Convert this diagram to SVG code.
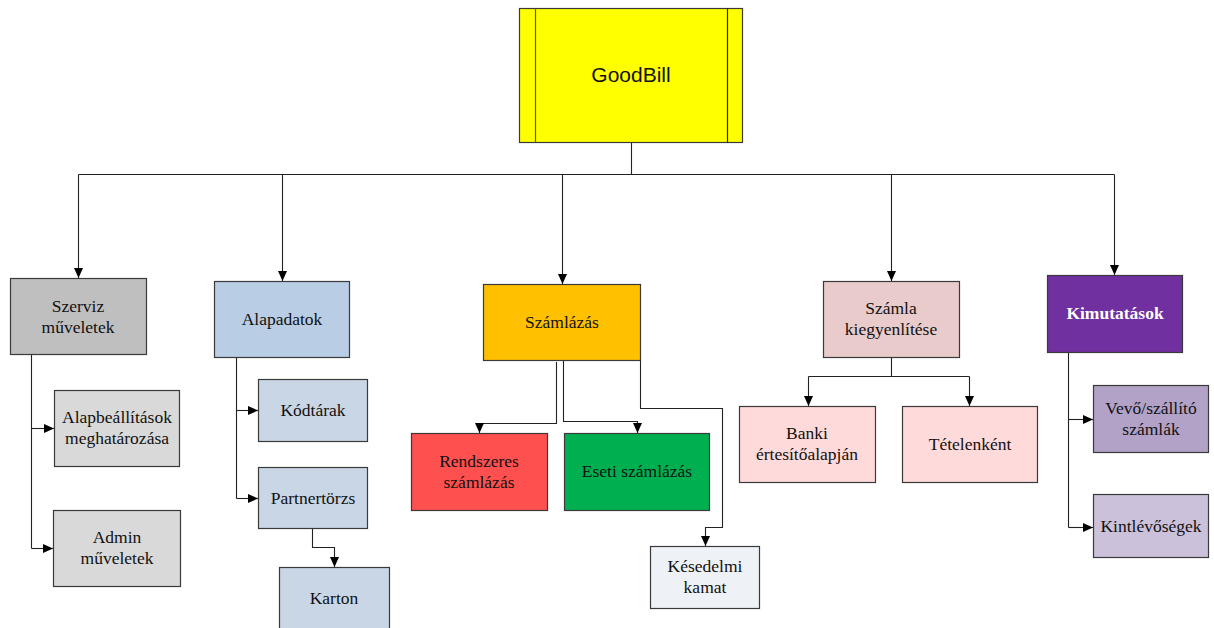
<svg xmlns="http://www.w3.org/2000/svg" width="1214" height="628" viewBox="0 0 1214 628">
<style>
.box{stroke:#3a3a3a;stroke-width:1.2}
.t{font-family:"Liberation Serif","Times New Roman",serif;font-size:17.5px;fill:#111;text-anchor:middle}
.c{fill:none;stroke:#222;stroke-width:1.1}
</style>
<defs>
<marker id="ar" markerUnits="userSpaceOnUse" markerWidth="10" markerHeight="10" viewBox="0 0 10 10" refX="10" refY="5" orient="auto">
<path d="M0,0.5 L10,5 L0,9.5 z" fill="#000"/>
</marker>
</defs>
<rect width="1214" height="628" fill="#fff"/>

<g id="connectors">
<path class="c" d="M631.5,143 V174.5"/>
<path class="c" d="M78.5,174.5 H1114.5"/>
<path class="c" d="M78.5,174.5 V278" marker-end="url(#ar)"/>
<path class="c" d="M282.5,174.5 V281" marker-end="url(#ar)"/>
<path class="c" d="M562.5,174.5 V284" marker-end="url(#ar)"/>
<path class="c" d="M891.5,174.5 V281" marker-end="url(#ar)"/>
<path class="c" d="M1114.5,174.5 V275" marker-end="url(#ar)"/>
<path class="c" d="M31.5,354 V548.5"/>
<path class="c" d="M31.5,428.5 H54" marker-end="url(#ar)"/>
<path class="c" d="M31.5,548.5 H53" marker-end="url(#ar)"/>
<path class="c" d="M236.5,357 V498.5"/>
<path class="c" d="M236.5,410.5 H258" marker-end="url(#ar)"/>
<path class="c" d="M236.5,498.5 H258" marker-end="url(#ar)"/>
<path class="c" d="M312.5,528 V547.5 H334.5 V567" marker-end="url(#ar)"/>
<path class="c" d="M556.5,362 V423.5 H479.5 V433" marker-end="url(#ar)"/>
<path class="c" d="M563.5,360 V421.5 H637.5 V433" marker-end="url(#ar)"/>
<path class="c" d="M640.5,360 V408.5 H722.5 V527.5 H705.5 V546" marker-end="url(#ar)"/>
<path class="c" d="M891.5,357 V376.5"/>
<path class="c" d="M808.5,376.5 H969.5"/>
<path class="c" d="M808.5,376.5 V406" marker-end="url(#ar)"/>
<path class="c" d="M969.5,376.5 V406" marker-end="url(#ar)"/>
<path class="c" d="M1068.5,352 V527.5"/>
<path class="c" d="M1068.5,419.5 H1093" marker-end="url(#ar)"/>
<path class="c" d="M1068.5,527.5 H1093" marker-end="url(#ar)"/>
</g>

<g id="goodbill">
<rect class="box" x="519.5" y="8.5" width="223" height="134" fill="#FFFF00"/>
<line x1="535.5" y1="8.5" x2="535.5" y2="142.5" stroke="#555" stroke-width="1.2"/>
<line x1="727.5" y1="8.5" x2="727.5" y2="142.5" stroke="#222" stroke-width="1.2"/>
<text x="631" y="82" font-family="'Liberation Sans',Arial,sans-serif" font-size="21" fill="#111" text-anchor="middle">GoodBill</text>
</g>

<g id="szerviz">
<rect class="box" x="10.5" y="278.5" width="136" height="76" fill="#BFBFBF"/>
<text class="t" x="78" y="312">Szerviz</text>
<text class="t" x="78" y="333">műveletek</text>
</g>
<g id="alapbeallitasok">
<rect class="box" x="54.5" y="390.5" width="125" height="76" fill="#D9D9D9"/>
<text class="t" x="117" y="423">Alapbeállítások</text>
<text class="t" x="117" y="444">meghatározása</text>
</g>
<g id="admin">
<rect class="box" x="53.5" y="510.5" width="127" height="76" fill="#D9D9D9"/>
<text class="t" x="117" y="543">Admin</text>
<text class="t" x="117" y="564">műveletek</text>
</g>

<g id="alapadatok">
<rect class="box" x="214.5" y="281.5" width="135" height="76" fill="#B9CDE5"/>
<text class="t" x="282" y="325">Alapadatok</text>
</g>
<g id="kodtarak">
<rect class="box" x="258.5" y="379.5" width="109" height="62" fill="#C9D6E6"/>
<text class="t" x="313" y="416">Kódtárak</text>
</g>
<g id="partnertorzs">
<rect class="box" x="258.5" y="467.5" width="109" height="61" fill="#C9D6E6"/>
<text class="t" x="313" y="504">Partnertörzs</text>
</g>
<g id="karton">
<rect class="box" x="279.5" y="567.5" width="110" height="62" fill="#C9D6E6"/>
<text class="t" x="334" y="604">Karton</text>
</g>

<g id="szamlazas">
<rect class="box" x="483.5" y="284.5" width="157" height="76" fill="#FFC000"/>
<text class="t" x="562" y="328">Számlázás</text>
</g>
<g id="rendszeres">
<rect class="box" x="411.5" y="433.5" width="136" height="77" fill="#FF5050"/>
<text class="t" x="479" y="467">Rendszeres</text>
<text class="t" x="479" y="488">számlázás</text>
</g>
<g id="eseti">
<rect class="box" x="564.5" y="433.5" width="145" height="77" fill="#00B050"/>
<text class="t" x="637" y="477">Eseti számlázás</text>
</g>
<g id="kesedelmi">
<rect class="box" x="650.5" y="546.5" width="109" height="62" fill="#EEF1F6"/>
<text class="t" x="705" y="572">Késedelmi</text>
<text class="t" x="705" y="593">kamat</text>
</g>

<g id="szamla-kiegyenlitese">
<rect class="box" x="823.5" y="281.5" width="136" height="76" fill="#E9CBCB"/>
<text class="t" x="891" y="314">Számla</text>
<text class="t" x="891" y="335">kiegyenlítése</text>
</g>
<g id="banki">
<rect class="box" x="739.5" y="406.5" width="136" height="76" fill="#FFDADA"/>
<text class="t" x="807" y="439">Banki</text>
<text class="t" x="807" y="460">értesítőalapján</text>
</g>
<g id="tetelenkent">
<rect class="box" x="902.5" y="406.5" width="135" height="76" fill="#FFDADA"/>
<text class="t" x="970" y="450">Tételenként</text>
</g>

<g id="kimutatasok">
<rect class="box" x="1047.5" y="275.5" width="135" height="77" fill="#7030A0"/>
<text class="t" x="1115" y="319" font-weight="bold" fill="#fff" style="fill:#fff">Kimutatások</text>
</g>
<g id="vevo">
<rect class="box" x="1093.5" y="385.5" width="115" height="67" fill="#B3A2C7"/>
<text class="t" x="1151" y="414">Vevő/szállító</text>
<text class="t" x="1151" y="435">számlák</text>
</g>
<g id="kintlevosegek">
<rect class="box" x="1093.5" y="494.5" width="115" height="63" fill="#CCC1DA"/>
<text class="t" x="1151" y="532">Kintlévőségek</text>
</g>
</svg>
